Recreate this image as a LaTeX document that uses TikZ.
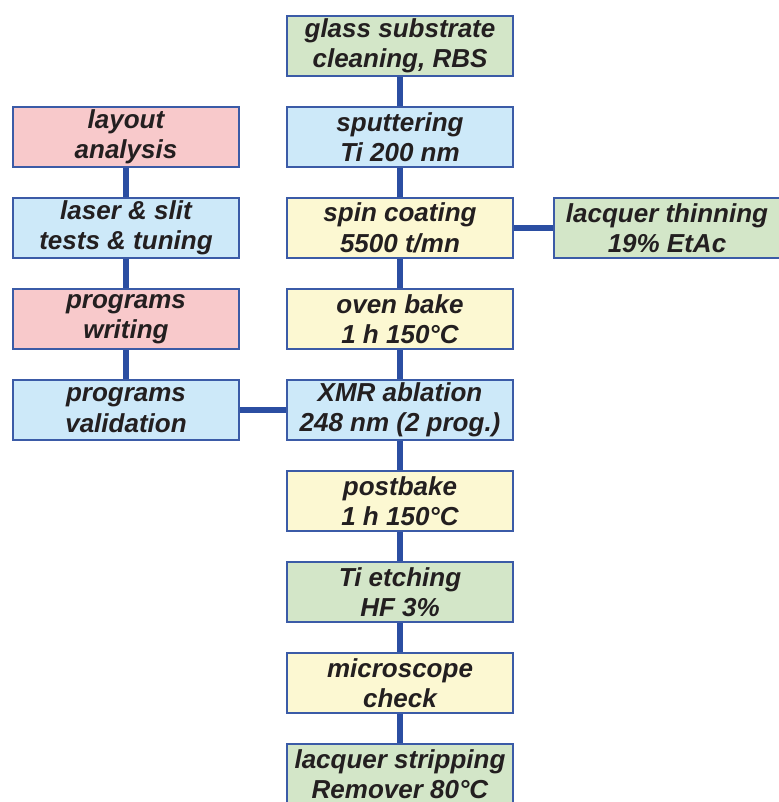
\documentclass[tikz,border=0pt]{standalone}
\usepackage{fontspec}
\setmainfont{Liberation Sans}
\definecolor{boxline}{HTML}{3B5BA7}
\definecolor{linkblue}{HTML}{2B4EA2}
\definecolor{boxtext}{HTML}{231F20}
\definecolor{fgreen}{HTML}{D3E6C8}
\definecolor{fblue}{HTML}{CDE9F9}
\definecolor{fyellow}{HTML}{FCF8D2}
\definecolor{fpink}{HTML}{F8C9CB}
\begin{document}
\begin{tikzpicture}[x=1pt,y=-1pt,
  stepbox/.style={draw=boxline,line width=2pt,minimum width=226pt,minimum height=60pt,
    inner sep=0pt,align=center,text=boxtext,font=\fontsize{26}{30.5}\selectfont\bfseries\itshape},
  link/.style={draw=linkblue,line width=6.5pt}]
\useasboundingbox (0,0) rectangle (778,802);
\node[stepbox,fill=fgreen] (glass) at (400,46) {glass substrate\\cleaning, RBS};
\node[stepbox,fill=fblue] (sputter) at (400,137) {sputtering\\Ti 200 nm};
\node[stepbox,fill=fyellow] (spin) at (400,228) {spin coating\\5500 t/mn};
\node[stepbox,fill=fyellow] (oven) at (400,319) {oven bake\\1 h 150°C};
\node[stepbox,fill=fblue] (xmr) at (400,410) {XMR ablation\\248 nm (2 prog.)};
\node[stepbox,fill=fyellow] (postbake) at (400,501) {postbake\\1 h 150°C};
\node[stepbox,fill=fgreen] (etch) at (400,592) {Ti etching\\HF 3\%};
\node[stepbox,fill=fyellow] (check) at (400,683) {microscope\\check};
\node[stepbox,fill=fgreen] (strip) at (400,774) {lacquer stripping\\Remover 80°C};
\node[stepbox,fill=fpink] (layout) at (126,137) {layout\\analysis};
\node[stepbox,fill=fblue] (tests) at (126,228) {laser \& slit\\tests \& tuning};
\node[stepbox,fill=fpink] (writing) at (126,319) {programs\\writing};
\node[stepbox,fill=fblue] (valid) at (126,410) {programs\\validation};
\node[stepbox,fill=fgreen] (thin) at (667,228) {lacquer thinning\\19\% EtAc};
\draw[link] (glass) -- (sputter);
\draw[link] (sputter) -- (spin);
\draw[link] (spin) -- (oven);
\draw[link] (oven) -- (xmr);
\draw[link] (xmr) -- (postbake);
\draw[link] (postbake) -- (etch);
\draw[link] (etch) -- (check);
\draw[link] (check) -- (strip);
\draw[link] (layout) -- (tests);
\draw[link] (tests) -- (writing);
\draw[link] (writing) -- (valid);
\draw[link] (valid) -- (xmr);
\draw[link] (spin) -- (thin);
\end{tikzpicture}
\end{document}
